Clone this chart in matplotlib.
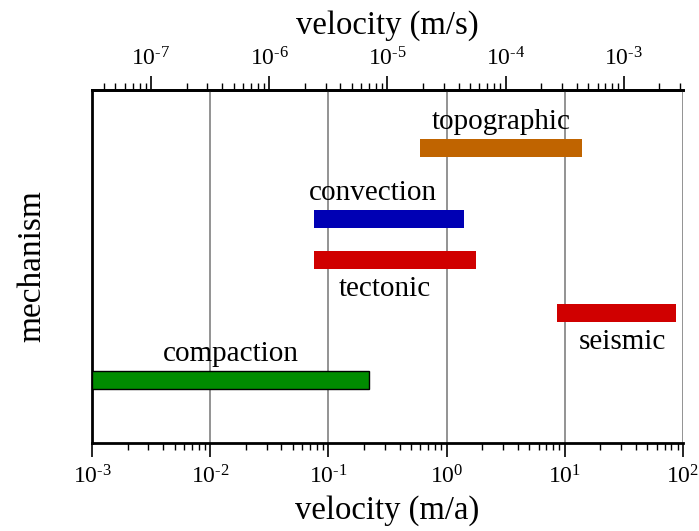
import numpy as np
import matplotlib.pyplot as plt
from matplotlib.ticker import LogLocator, NullFormatter

plt.rcParams['font.family'] = ['Liberation Serif', 'DejaVu Serif']
plt.rcParams['mathtext.fontset'] = 'custom'
plt.rcParams['mathtext.rm'] = 'Liberation Serif'
plt.rcParams['mathtext.it'] = 'Liberation Serif:italic'

# velocity ranges of each mechanism (m/a)
mechanisms = ['topographic', 'convection', 'tectonic', 'seismic', 'compaction']
v_low = [0.60, 0.0755, 0.0755, 8.6, 0.001]
v_high = [14.0, 1.40, 1.77, 87.0, 0.22]
levels = [5.01, 3.81, 3.11, 2.21, 1.07]
colors = ['#c06400', '#0000b4', '#d00000', '#d00000', '#008c00']
label_side = ['above', 'above', 'below', 'below', 'above']
label_x = [2.9, 0.24, 0.30, 31.0, 0.015]

bottom_ticks = [1e-3, 1e-2, 1e-1, 1e0, 1e1, 1e2]
top_ticks = [1e-7, 1e-6, 1e-5, 1e-4, 1e-3]
conv = 1.0 / 3.156e4  # top axis scale factor as drawn in the original


def pow_label(t):
    return r'10$^{\text{%d}}$' % int(np.log10(t))


fig = plt.figure(figsize=(6.99, 5.31), dpi=100)
ax = fig.add_axes([0.1316, 0.1657, 0.8454, 0.6648])
ax.set_xscale('log')
ax.set_xlim(1e-3, 1e2)
ax.set_ylim(0, 6)

bar_h = 0.3
for name, lo, hi, y, c, side, lx in zip(mechanisms, v_low, v_high, levels, colors, label_side, label_x):
    ec = 'black' if name == 'compaction' else c
    ax.barh(y, hi - lo, left=lo, height=bar_h, color=c, edgecolor=ec,
            linewidth=1 if name == 'compaction' else 0, zorder=3)
    if side == 'above':
        ax.annotate(name, (lx, y + bar_h / 2), xytext=(0, 3), textcoords='offset points',
                    ha='center', va='bottom', fontsize=21)
    else:
        ax.annotate(name, (lx, y - bar_h / 2), xytext=(0, -5), textcoords='offset points',
                    ha='center', va='top', fontsize=21)

# gridlines
for t in bottom_ticks[1:]:
    ax.axvline(t, color='#808080', lw=1.2, zorder=1)

ax.set_xticks(bottom_ticks)
ax.set_xticklabels([pow_label(t) for t in bottom_ticks], fontsize=17)
ax.xaxis.set_minor_locator(LogLocator(base=10, subs=np.arange(2, 10)))
ax.xaxis.set_minor_formatter(NullFormatter())
ax.tick_params(axis='x', which='major', direction='out', length=10, width=1.2, pad=6)
ax.tick_params(axis='x', which='minor', direction='out', length=5, width=1)
ax.set_yticks([])

for s in ['left', 'bottom', 'top']:
    ax.spines[s].set_linewidth(2)
ax.spines['right'].set_visible(False)

ax.set_xlabel('velocity (m/a)', fontsize=23.5, labelpad=5)
ax.set_ylabel('mechanism', fontsize=24, labelpad=32)

top = ax.secondary_xaxis('top', functions=(lambda x: x * conv, lambda x: x / conv))
top.set_xticks(top_ticks)
top.set_xticklabels([pow_label(t) for t in top_ticks], fontsize=17)
top.xaxis.set_minor_locator(LogLocator(base=10, subs=np.arange(2, 10)))
top.xaxis.set_minor_formatter(NullFormatter())
top.tick_params(axis='x', which='major', direction='out', length=10, width=1.2, pad=4)
top.tick_params(axis='x', which='minor', direction='out', length=5, width=1)
top.spines['top'].set_linewidth(2)
top.set_xlabel('velocity (m/s)', fontsize=23.5, labelpad=10)

fig.savefig('out.png', dpi=100)
